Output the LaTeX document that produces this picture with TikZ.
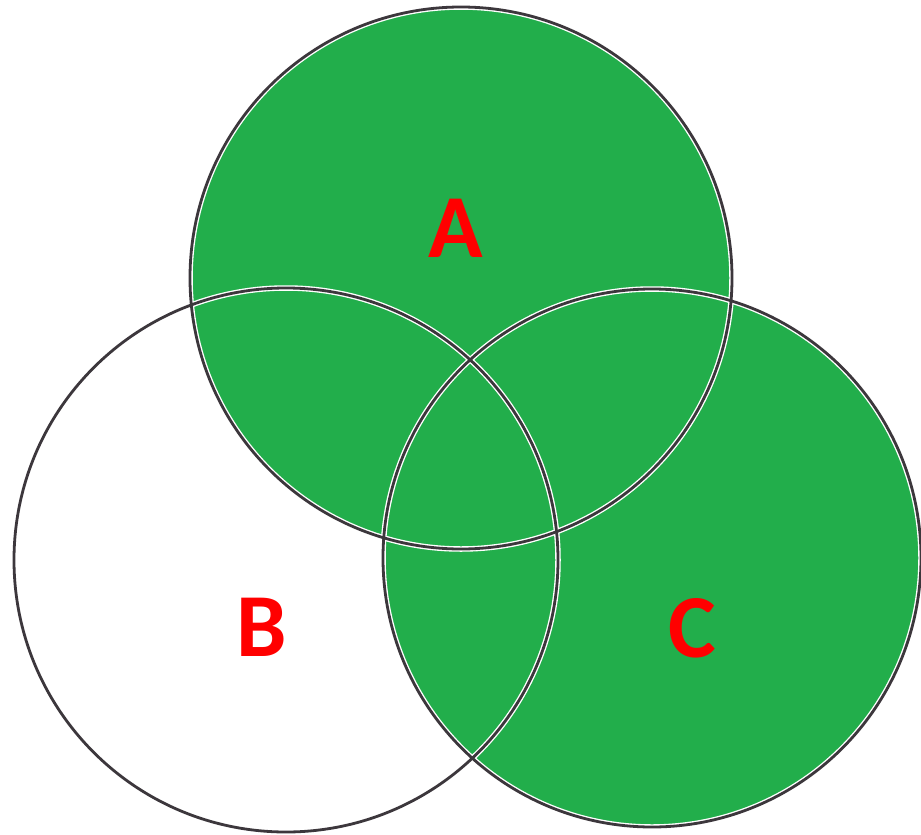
\documentclass[tikz,border=0pt]{standalone}
\usepackage{fontspec}
\setmainfont{Carlito}
\definecolor{vgreen}{RGB}{34,174,75}
\definecolor{vline}{RGB}{60,55,60}
\definecolor{vred}{RGB}{255,0,0}
\tikzset{
  halo/.style={draw=white,line width=5.5pt},
  ring/.style={draw=vline,line width=2.8pt},
  setlabel/.style={text=vred,font=\fontsize{90}{90}\selectfont\bfseries,inner sep=0pt}
}
\begin{document}
\begin{tikzpicture}[x=1pt,y=-1pt]
\useasboundingbox (0,0) rectangle (921,835);
\coordinate (ca) at (461,278);
\coordinate (cb) at (286,560);
\coordinate (cc) at (652,558);
\fill[vgreen] (ca) circle (271);
\fill[vgreen] (cc) circle (269);
\draw[halo] (ca) circle (271);
\draw[halo] (cb) circle (272);
\draw[halo] (cc) circle (269);
\draw[ring] (ca) circle (271);
\draw[ring] (cb) circle (272);
\draw[ring] (cc) circle (269);
\node[setlabel] (la) at (456,228) {A};
\node[setlabel] (lb) at (262,627) {B};
\node[setlabel] (lc) at (692,628) {C};
\end{tikzpicture}
\end{document}
